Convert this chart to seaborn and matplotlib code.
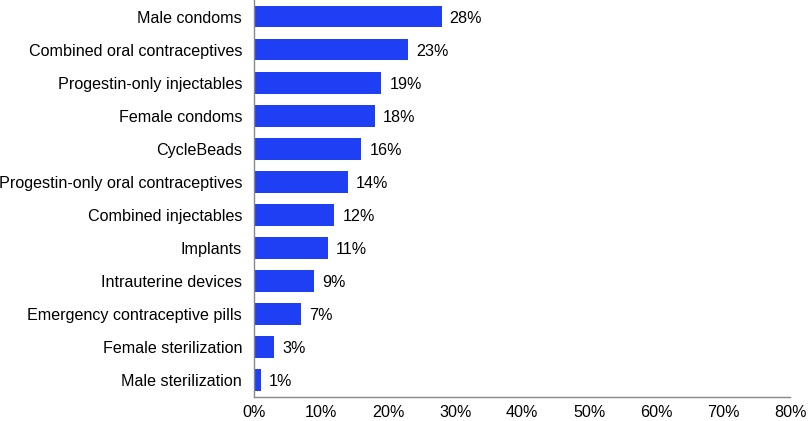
import pandas as pd
import matplotlib
matplotlib.use("Agg")
import matplotlib.pyplot as plt
import seaborn as sns
from matplotlib.ticker import PercentFormatter

methods = [
    "Male condoms",
    "Combined oral contraceptives",
    "Progestin-only injectables",
    "Female condoms",
    "CycleBeads",
    "Progestin-only oral contraceptives",
    "Combined injectables",
    "Implants",
    "Intrauterine devices",
    "Emergency contraceptive pills",
    "Female sterilization",
    "Male sterilization",
]
percent = [28, 23, 19, 18, 16, 14, 12, 11, 9, 7, 3, 1]

df = pd.DataFrame({"method": methods, "percent": percent})

sns.set_style("white")
plt.rcParams["font.family"] = ["Liberation Sans", "DejaVu Sans"]
plt.rcParams["text.color"] = "black"
plt.rcParams["xtick.color"] = "black"
plt.rcParams["ytick.color"] = "black"

fig = plt.figure(figsize=(8.1, 4.21), dpi=100)
ax = fig.add_axes([0.3136, 0.058, 0.662, 0.942])
sns.barplot(data=df, x="percent", y="method", color="#1f3ff5",
            width=0.66, ax=ax, saturation=1, linewidth=0)

for i, v in enumerate(percent):
    ax.text(v + 1.2, i + 0.05, f"{v}%", va="center", ha="left", fontsize=11.6)

ax.set_xlim(0, 80)
ax.set_xticks(range(0, 81, 10))
ax.xaxis.set_major_formatter(PercentFormatter(decimals=0))
ax.set_xlabel("")
ax.set_ylabel("")
ax.tick_params(axis="both", labelsize=11.6, length=0)
ax.tick_params(axis="x", pad=6)
ax.tick_params(axis="y", pad=8.5)
for s in ["top", "right"]:
    ax.spines[s].set_visible(False)
for s in ["left", "bottom"]:
    ax.spines[s].set_color("#888888")
    ax.spines[s].set_linewidth(1)

fig.savefig("out.png", dpi=100)
